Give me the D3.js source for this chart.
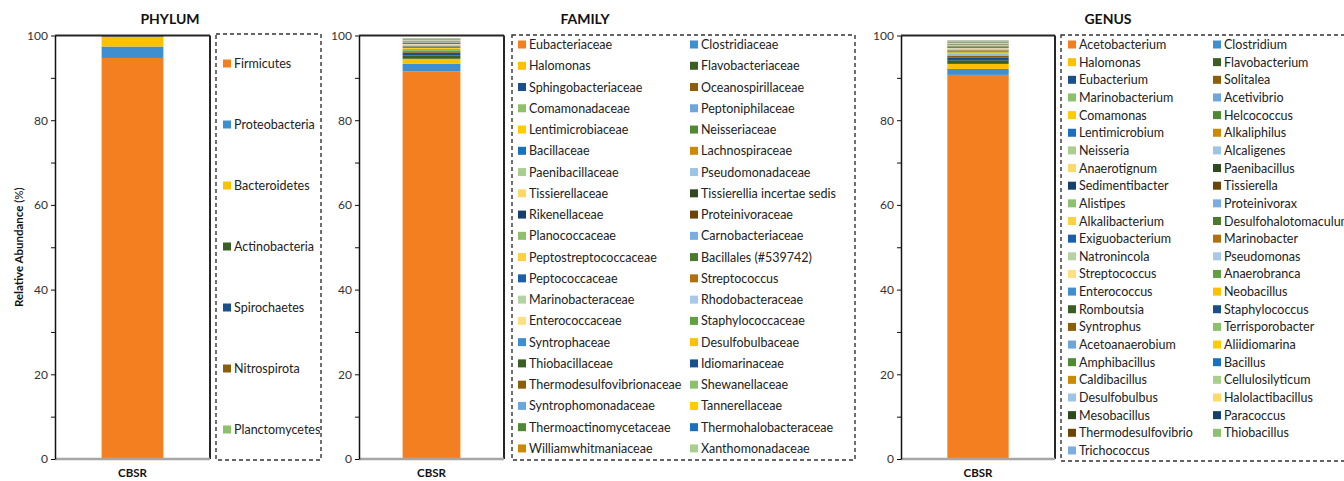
<!DOCTYPE html>
<html>
<head>
<meta charset="utf-8">
<script src="https://cdn.jsdelivr.net/npm/d3@7"></script>
<style>
  body { margin: 0; background: #fff; }
  svg { display: block; font-family: Lato, "Open Sans", sans-serif; }
</style>
</head>
<body>
<div id="chart"></div>
<script>
// ---- data ----
const category = 'CBSR';
const yTicks = [0, 10, 20, 30, 40, 50, 60, 70, 80, 90, 100];

const phylumNames = ['Firmicutes', 'Proteobacteria', 'Bacteroidetes', 'Actinobacteria',
    'Spirochaetes', 'Nitrospirota', 'Planctomycetes'];
const phylumValues = [94.7, 2.7, 2.3, 0.1, 0.05, 0.03, 0.02];

const familyNames = ['Eubacteriaceae', 'Clostridiaceae', 'Halomonas', 'Flavobacteriaceae',
    'Sphingobacteriaceae', 'Oceanospirillaceae', 'Comamonadaceae', 'Peptoniphilaceae',
    'Lentimicrobiaceae', 'Neisseriaceae', 'Bacillaceae', 'Lachnospiraceae',
    'Paenibacillaceae', 'Pseudomonadaceae', 'Tissierellaceae', 'Tissierellia incertae sedis',
    'Rikenellaceae', 'Proteinivoraceae', 'Planococcaceae', 'Carnobacteriaceae',
    'Peptostreptococcaceae', 'Bacillales (#539742)', 'Peptococcaceae', 'Streptococcus',
    'Marinobacteraceae', 'Rhodobacteraceae', 'Enterococcaceae', 'Staphylococcaceae',
    'Syntrophaceae', 'Desulfobulbaceae', 'Thiobacillaceae', 'Idiomarinaceae',
    'Thermodesulfovibrionaceae', 'Shewanellaceae', 'Syntrophomonadaceae', 'Tannerellaceae',
    'Thermoactinomycetaceae', 'Thermohalobacteraceae', 'Williamwhitmaniaceae', 'Xanthomonadaceae'];
const familyValues = [91.5, 1.8, 1.2, 0.75, 0.7, 0.35, 0.3, 0.25, 0.2, 0.2,
    0.18, 0.16, 0.15, 0.14, 0.12, 0.11, 0.1, 0.1, 0.09, 0.09,
    0.08, 0.08, 0.07, 0.07, 0.06, 0.06, 0.05, 0.05, 0.05, 0.04,
    0.04, 0.04, 0.03, 0.03, 0.03, 0.03, 0.02, 0.02, 0.02, 0.02];

const genusNames = ['Acetobacterium', 'Clostridium', 'Halomonas', 'Flavobacterium',
    'Eubacterium', 'Solitalea', 'Marinobacterium', 'Acetivibrio', 'Comamonas', 'Helcococcus',
    'Lentimicrobium', 'Alkaliphilus', 'Neisseria', 'Alcaligenes', 'Anaerotignum', 'Paenibacillus',
    'Sedimentibacter', 'Tissierella', 'Alistipes', 'Proteinivorax', 'Alkalibacterium',
    'Desulfohalotomaculum', 'Exiguobacterium', 'Marinobacter', 'Natronincola', 'Pseudomonas',
    'Streptococcus', 'Anaerobranca', 'Enterococcus', 'Neobacillus', 'Romboutsia', 'Staphylococcus',
    'Syntrophus', 'Terrisporobacter', 'Acetoanaerobium', 'Aliidiomarina', 'Amphibacillus',
    'Bacillus', 'Caldibacillus', 'Cellulosilyticum', 'Desulfobulbus', 'Halolactibacillus',
    'Mesobacillus', 'Paracoccus', 'Thermodesulfovibrio', 'Thiobacillus', 'Trichococcus'];
const genusValues = [90.7, 1.4, 1.2, 0.85, 0.7, 0.35, 0.3, 0.28, 0.25, 0.22,
    0.2, 0.18, 0.17, 0.15, 0.14, 0.13, 0.12, 0.11, 0.1, 0.1,
    0.09, 0.09, 0.08, 0.08, 0.07, 0.07, 0.06, 0.06, 0.05, 0.05,
    0.05, 0.04, 0.04, 0.04, 0.04, 0.03, 0.03, 0.03, 0.03, 0.03,
    0.02, 0.02, 0.02, 0.02, 0.02, 0.02, 0.02];

// excel-like colour cycle; after the 28th entry it restarts at the 2nd
const palette = ['#F47F20', '#3E8ED0', '#FFC000', '#3B5E24', '#19508A', '#8C5E0A', '#8DC06A',
    '#6EA6DC', '#FFCC00', '#4F8A32', '#1A6FC0', '#CC8A00', '#A9CF8E', '#9DC3E6', '#FFD966',
    '#2E4A1E', '#163F6B', '#6B4508', '#8FC070', '#7AAEE0', '#FFD040', '#4A7A2C', '#1B5FA8',
    '#B0700F', '#B5D3A0', '#A8C8E8', '#FFE080', '#60A040'];
const colorAt = i => palette[i < palette.length ? i : i - 27];

// ---- layout ----
const W = 1344, H = 481;
const yTop = 35.5, yBottom = 459;

const svg = d3.select('#chart').append('svg')
    .attr('width', W).attr('height', H);

const y = d3.scaleLinear().domain([0, 100]).range([yBottom, yTop]);

function drawPanel(p) {
    const g = svg.append('g');

    g.append('text')
        .attr('x', p.titleX).attr('y', 24)
        .attr('text-anchor', 'middle')
        .style('font-size', '14px').style('font-weight', 'bold').style('fill', '#111')
        .text(p.title);

    const x = d3.scaleBand().domain([category]).range([p.x0, p.x1]).padding(0.43);

    // stacked bar, first name at the bottom
    const row = { cat: category };
    p.names.forEach((n, i) => row[n] = p.values[i]);
    const series = d3.stack().keys(p.names)([row]);

    g.selectAll('rect.seg').data(series).join('rect')
        .attr('class', 'seg')
        .attr('x', x(category))
        .attr('width', x.bandwidth())
        .attr('y', d => y(d[0][1]))
        .attr('height', d => y(d[0][0]) - y(d[0][1]))
        .attr('fill', (d, i) => colorAt(i));

    // frame: top + right dark, bottom grey
    g.append('line').attr('x1', p.x0).attr('x2', p.x1).attr('y1', yTop).attr('y2', yTop)
        .attr('stroke', '#262626').attr('stroke-width', 2);
    g.append('line').attr('x1', p.x1).attr('x2', p.x1).attr('y1', yTop).attr('y2', yBottom)
        .attr('stroke', '#262626').attr('stroke-width', 2);
    g.append('line').attr('x1', p.x0).attr('x2', p.x1).attr('y1', yBottom).attr('y2', yBottom)
        .attr('stroke', '#a6a6a6').attr('stroke-width', 2.5);

    const yAxis = g.append('g')
        .attr('transform', `translate(${p.x0},0)`)
        .call(d3.axisLeft(y).tickValues(yTicks).tickSize(4).tickSizeOuter(0)
            .tickFormat(d => d % 20 === 0 ? d : ''));
    yAxis.select('.domain').attr('stroke', '#111').attr('stroke-width', 1.5);
    yAxis.selectAll('.tick line').attr('stroke', '#111');
    yAxis.selectAll('.tick text')
        .style('font-size', '12px').style('fill', '#333').style('font-family', 'Lato, sans-serif');

    g.append('text')
        .attr('x', x(category) + x.bandwidth() / 2).attr('y', 477)
        .attr('text-anchor', 'middle')
        .style('font-size', '11.5px').style('font-weight', 'bold').style('fill', '#111')
        .text(category);

    // legend box
    g.append('rect')
        .attr('x', p.legX).attr('y', p.legY0).attr('width', p.legW).attr('height', p.legY1 - p.legY0)
        .attr('fill', 'none').attr('stroke', '#333').attr('stroke-width', 1.4)
        .attr('stroke-dasharray', '4,3');

    // legend fills row by row
    const nCols = p.colX.length;
    const items = g.selectAll('g.leg').data(p.names).join('g')
        .attr('class', 'leg')
        .attr('transform', (d, i) => {
            const col = i % nCols;
            const r = Math.floor(i / nCols);
            return `translate(${p.colX[col]},${p.rowY0 + r * p.rowStep})`;
        });
    items.append('rect')
        .attr('x', 0).attr('y', -4.5).attr('width', 8).attr('height', 8)
        .attr('fill', (d, i) => colorAt(i));
    items.append('text')
        .attr('x', 11).attr('y', 4)
        .style('font-size', '12.5px').style('fill', '#222')
        .text(d => d);
}

drawPanel({
    title: 'PHYLUM', titleX: 170,
    names: phylumNames, values: phylumValues,
    x0: 55, x1: 210,
    legX: 216, legY0: 34, legY1: 460, legW: 105,
    colX: [223], rowY0: 64, rowStep: 61
});

drawPanel({
    title: 'FAMILY', titleX: 585,
    names: familyNames, values: familyValues,
    x0: 359, x1: 504,
    legX: 512, legY0: 35, legY1: 460, legW: 343,
    colX: [518, 690], rowY0: 45, rowStep: 21.26
});

drawPanel({
    title: 'GENUS', titleX: 1108,
    names: genusNames, values: genusValues,
    x0: 901, x1: 1055,
    legX: 1061, legY0: 35, legY1: 461, legW: 300,
    colX: [1068, 1213], rowY0: 45, rowStep: 17.65
});

// y axis title (first panel only)
svg.append('text')
    .attr('transform', `translate(23,${(yTop + yBottom) / 2}) rotate(-90)`)
    .attr('text-anchor', 'middle')
    .style('font-size', '11.5px').style('fill', '#111')
    .call(t => {
        t.append('tspan').style('font-weight', 'bold').text('Relative Abundance ');
        t.append('tspan').text('(%)');
    });
</script>
</body>
</html>
